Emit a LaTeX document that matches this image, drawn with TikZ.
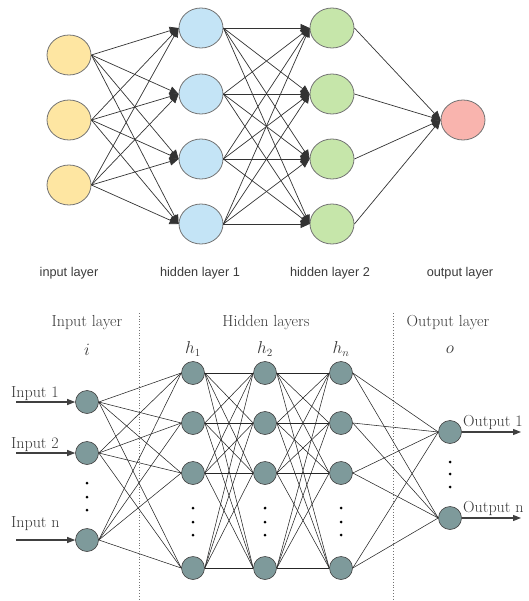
\documentclass[tikz,border=0pt]{standalone}
\usepackage{fontspec}
\newfontfamily\labsans{Liberation Sans}
\usetikzlibrary{arrows.meta,shapes.geometric}
\definecolor{cyel}{HTML}{FEE6A2}
\definecolor{cblu}{HTML}{C4E4F6}
\definecolor{cgrn}{HTML}{C6E6AA}
\definecolor{cpnk}{HTML}{F9B4AE}
\definecolor{cteal}{HTML}{7E9A9B}
\definecolor{ctxt}{HTML}{3A3A3A}
\begin{document}
\begin{tikzpicture}[x=1pt,y=-1pt,
  topnode/.style={ellipse,draw=black!55,line width=0.8pt,minimum width=44pt,minimum height=40pt,inner sep=0pt},
  tedge/.style={draw=black!80,line width=0.7pt,-{Triangle[length=9pt,width=8pt]}},
  toplab/.style={font=\labsans\fontsize{12.7}{14}\selectfont,text=ctxt,inner sep=0pt},
  botnode/.style={circle,draw=black!75,line width=0.6pt,fill=cteal,minimum size=23pt,inner sep=0pt},
  bedge/.style={draw=black!85,line width=0.55pt},
  ioarrow/.style={draw=black!75,line width=1.1pt,-{Triangle[length=8pt,width=6pt]}},
  botlab/.style={font=\fontsize{16}{18}\selectfont,text=ctxt,inner sep=0pt},
  sep/.style={draw=black!55,line width=0.8pt,dotted},
  bdot/.style={fill=black}
]
\useasboundingbox (0,0) rectangle (528,601);
% ---------- top network ----------
\foreach \n/\y in {1/55,2/120,3/185}
  \node[topnode,fill=cyel] (ti\n) at (69,\y) {};
\foreach \n/\y in {1/28,2/94,3/159,4/224}{
  \node[topnode,fill=cblu] (th\n) at (201,\y) {};
  \node[topnode,fill=cgrn] (tg\n) at (332,\y) {};
}
\node[topnode,fill=cpnk] (to) at (463,120) {};
\foreach \i in {1,2,3}
  \foreach \j in {1,...,4}
    \draw[tedge] (ti\i.east) -- (th\j.west);
\foreach \i in {1,...,4}
  \foreach \j in {1,...,4}
    \draw[tedge] (th\i.east) -- (tg\j.west);
\foreach \i in {1,...,4}
  \draw[tedge] (tg\i.east) -- (to.west);
\node[toplab] (tl1) at (69,273) {input layer};
\node[toplab] (tl2) at (200,273) {hidden layer 1};
\node[toplab] (tl3) at (330,273) {hidden layer 2};
\node[toplab] (tl4) at (460,273) {output layer};
% ---------- bottom network ----------
\draw[sep] (139,313) -- (139,601);
\draw[sep] (393,313) -- (393,601);
\node[botlab] (hin) at (87,323) {Input layer};
\node[botlab] (hhid) at (266,323) {Hidden layers};
\node[botlab] (hout) at (448,323) {Output layer};
\node[botlab] (li) at (87,350) {$i$};
\node[botlab] (lh1) at (193,349) {$h_1$};
\node[botlab] (lh2) at (265,349) {$h_2$};
\node[botlab] (lhn) at (341,349) {$h_n$};
\node[botlab] (lo) at (450,350) {$o$};
\foreach \n/\y in {1/402,2/453,3/540}
  \node[botnode] (bi\n) at (87,\y) {};
\foreach \n/\y in {1/373,2/423,3/473,4/568}{
  \node[botnode] (bh\n) at (193,\y) {};
  \node[botnode] (bk\n) at (265,\y) {};
  \node[botnode] (bm\n) at (341,\y) {};
}
\node[botnode] (bo1) at (450,432) {};
\node[botnode] (bo2) at (450,518) {};
\foreach \i in {1,2,3}
  \foreach \j in {1,...,4}
    \draw[bedge] (bi\i.east) -- (bh\j.west);
\foreach \i in {1,...,4}
  \foreach \j in {1,...,4}{
    \draw[bedge] (bh\i.east) -- (bk\j.west);
    \draw[bedge] (bk\i.east) -- (bm\j.west);
  }
\foreach \i in {1,...,4}
  \foreach \j in {1,2}
    \draw[bedge] (bm\i.east) -- (bo\j.west);
% dots
\foreach \y in {483,497,510}
  \fill[bdot] (87,\y) circle (1.5);
\foreach \x in {193,265,341}
  \foreach \y in {508,522,535}
    \fill[bdot] (\x,\y) circle (1.5);
\foreach \y in {462,474,487}
  \fill[bdot] (450,\y) circle (1.5);
% input / output arrows
\coordinate (s1) at (16,402);
\coordinate (s2) at (16,453);
\coordinate (s3) at (16,540);
\draw[ioarrow] (s1) -- (bi1.west);
\draw[ioarrow] (s2) -- (bi2.west);
\draw[ioarrow] (s3) -- (bi3.west);
\node[botlab,anchor=base west] (tin1) at (11,397) {Input 1};
\node[botlab,anchor=base west] (tin2) at (11,448) {Input 2};
\node[botlab,anchor=base west] (tin3) at (11,527) {Input n};
\coordinate (e1) at (521,432);
\coordinate (e2) at (521,518);
\draw[ioarrow] (bo1.east) -- (e1);
\draw[ioarrow] (bo2.east) -- (e2);
\node[botlab,anchor=base west] (tout1) at (463,426) {Output 1};
\node[botlab,anchor=base west] (tout2) at (463,512) {Output n};
\end{tikzpicture}
\end{document}
